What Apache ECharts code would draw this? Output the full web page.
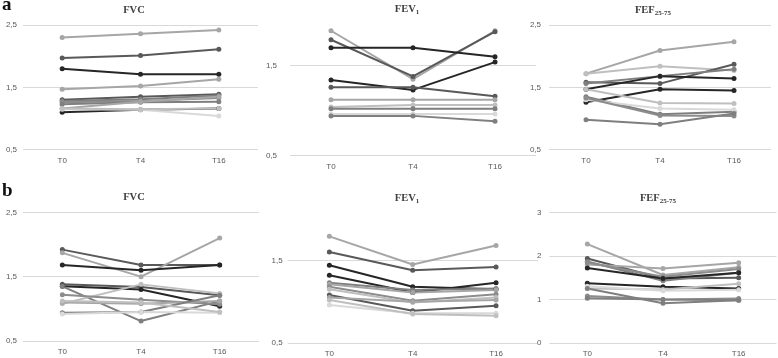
<!DOCTYPE html>
<html>
<head>
<meta charset="utf-8">
<script src="https://cdn.jsdelivr.net/npm/echarts@6/dist/echarts.min.js"></script>
<style>
  html, body { margin: 0; background: #fff; }
  #chart { width: 778px; height: 358px; }
</style>
</head>
<body>
<div id="chart"></div>
<script>
const categories = ['T0', 'T4', 'T16']

// row a
const fvcA = [
  [2.30, 2.36, 2.42], [1.97, 2.01, 2.11], [1.80, 1.71, 1.71], [1.47, 1.52, 1.63],
  [1.30, 1.35, 1.39], [1.28, 1.31, 1.37], [1.26, 1.28, 1.33], [1.23, 1.26, 1.27],
  [1.16, 1.27, 1.35], [1.10, 1.14, 1.16], [1.15, 1.14, 1.04], [1.16, 1.15, 1.16],
]
const fev1A = [
  [1.89, 1.35, 1.89], [1.79, 1.38, 1.88], [1.70, 1.70, 1.60], [1.34, 1.23, 1.54],
  [1.26, 1.26, 1.16], [1.12, 1.12, 1.12], [1.04, 1.06, 1.06], [1.02, 1.02, 1.02],
  [0.96, 0.96, 0.96], [0.94, 0.94, 0.88],
]
const fefA = [
  [1.72, 2.09, 2.23], [1.72, 1.84, 1.77], [1.58, 1.56, 1.87], [1.56, 1.68, 1.79],
  [1.47, 1.68, 1.64], [1.26, 1.47, 1.45], [1.47, 1.25, 1.24], [1.35, 1.07, 1.11],
  [1.30, 1.16, 1.14], [1.33, 1.05, 1.04], [0.98, 0.91, 1.08],
]

// row b
const fvcB = [
  [1.92, 1.68, 1.68], [1.87, 1.50, 2.10], [1.68, 1.60, 1.68], [1.38, 1.34, 1.21],
  [1.35, 1.30, 1.04], [1.35, 0.81, 1.12], [1.08, 1.38, 1.24], [1.22, 1.14, 1.07],
  [1.10, 1.08, 1.12], [0.94, 0.95, 1.21], [0.92, 0.95, 0.94], [1.12, 1.10, 0.95],
]
const fev1B = [
  [1.79, 1.45, 1.68], [1.60, 1.38, 1.42], [1.44, 1.18, 1.15], [1.32, 1.11, 1.23],
  [1.23, 1.14, 1.16], [1.21, 1.11, 1.14], [1.18, 1.01, 1.09], [1.15, 0.99, 1.05],
  [1.08, 0.89, 0.95], [1.05, 1.00, 1.02], [0.96, 0.86, 0.86], [1.02, 0.85, 0.83],
]
const fefB = [
  [2.27, 1.56, 1.74], [1.94, 1.48, 1.50], [1.87, 1.43, 1.61], [1.80, 1.71, 1.84],
  [1.85, 1.52, 1.70], [1.72, 1.48, 1.61], [1.37, 1.29, 1.25], [1.25, 1.23, 1.36],
  [1.30, 1.20, 1.22], [1.08, 1.00, 1.02], [1.03, 1.00, 0.98], [1.25, 0.91, 0.98],
]

// line shades, one per patient line
const K = '#262626', D = '#595959', M = '#7f7f7f', G = '#8c8c8c', L = '#a6a6a6', P = '#bfbfbf', W = '#d9d9d9'
const fvcAColors = [L, D, K, L, D, M, G, M, L, K, W, P]
const fev1AColors = [L, D, K, K, D, L, P, M, W, M]
const fefAColors = [L, P, D, M, K, K, P, M, W, G, M]
const fvcBColors = [D, L, K, D, K, M, P, G, L, M, W, P]
const fev1BColors = [L, D, K, K, M, L, G, P, D, L, W, P]
const fefBColors = [L, D, M, L, G, K, K, P, W, G, M, M]

const panels = [
  { data: fvcA, colors: fvcAColors, grid: { left: 23, top: 25, width: 235, height: 124.7 }, min: 0.5, max: 2.5, interval: 1, margin: 6, title: '{t|FVC}', tx: 134, ty: 3 },
  { data: fev1A, colors: fev1AColors, grid: { left: 290, top: 20.9, width: 246, height: 134.4 }, min: 0.5, max: 2.0, interval: 1, margin: 13, title: '{t|FEV}{s|1}', tx: 407, ty: 2 },
  { data: fefA, colors: fefAColors, grid: { left: 549, top: 25, width: 222, height: 124.7 }, min: 0.5, max: 2.5, interval: 1, margin: 8, title: '{t|FEF}{s|25-75}', tx: 653, ty: 3 },
  { data: fvcB, colors: fvcBColors, grid: { left: 23, top: 212.3, width: 236, height: 128.7 }, min: 0.5, max: 2.5, interval: 1, margin: 6, title: '{t|FVC}', tx: 134, ty: 190 },
  { data: fev1B, colors: fev1BColors, grid: { left: 287.7, top: 219, width: 250, height: 125 }, min: 0.5, max: 2.0, interval: 1, margin: 5, title: '{t|FEV}{s|1}', tx: 407, ty: 191 },
  { data: fefB, colors: fefBColors, grid: { left: 549.5, top: 212.3, width: 227, height: 131.7 }, min: 0, max: 3, interval: 1, margin: 8, title: '{t|FEF}{s|25-75}', tx: 658, ty: 191 },
]

const titleRich = {
  t: { fontFamily: 'Liberation Serif', fontWeight: 'bold', fontSize: 10.5, color: '#404040', lineHeight: 14, verticalAlign: 'middle' },
  s: { fontFamily: 'Liberation Serif', fontWeight: 'bold', fontSize: 7, color: '#404040', lineHeight: 10, verticalAlign: 'bottom' },
}

const chart = echarts.init(document.getElementById('chart'))

const titles = panels.map(p => ({
  text: p.title, left: p.tx, top: p.ty, textAlign: 'center', padding: 0,
  textStyle: { rich: titleRich },
}))
titles.push(
  { text: 'a', left: 2, top: -4, padding: 0, textStyle: { fontFamily: 'Liberation Serif', fontWeight: 'bold', fontSize: 19, color: '#111' } },
  { text: 'b', left: 2, top: 182, padding: 0, textStyle: { fontFamily: 'Liberation Serif', fontWeight: 'bold', fontSize: 19, color: '#111' } },
)

const series = []
panels.forEach((p, i) => {
  p.data.forEach((vals, j) => {
    series.push({
      type: 'line', xAxisIndex: i, yAxisIndex: i, data: vals,
      symbol: 'circle', symbolSize: 5,
      lineStyle: { width: 2, color: p.colors[j] },
      itemStyle: { color: p.colors[j] },
      z: 2,
    })
  })
})

chart.setOption({
  animation: false,
  title: titles,
  grid: panels.map(p => ({ ...p.grid, containLabel: false })),
  xAxis: panels.map((p, i) => ({
    type: 'category', gridIndex: i, data: categories, boundaryGap: true,
    axisLine: { show: false }, axisTick: { show: false },
    axisLabel: { color: '#595959', fontSize: 8, margin: 7, fontFamily: 'Liberation Sans' },
  })),
  yAxis: panels.map((p, i) => ({
    type: 'value', gridIndex: i, min: p.min, max: p.max, interval: p.interval,
    axisLine: { show: false }, axisTick: { show: false },
    splitLine: { lineStyle: { color: '#d9d9d9', width: 1 }, showMaxLine: p.max !== 2.0 },
    axisLabel: {
      color: '#595959', fontSize: 8, margin: p.margin, fontFamily: 'Liberation Sans',
      showMaxLabel: p.max !== 2.0,
      formatter: v => String(v).replace('.', ','),
    },
  })),
  series,
})
</script>
</body>
</html>
